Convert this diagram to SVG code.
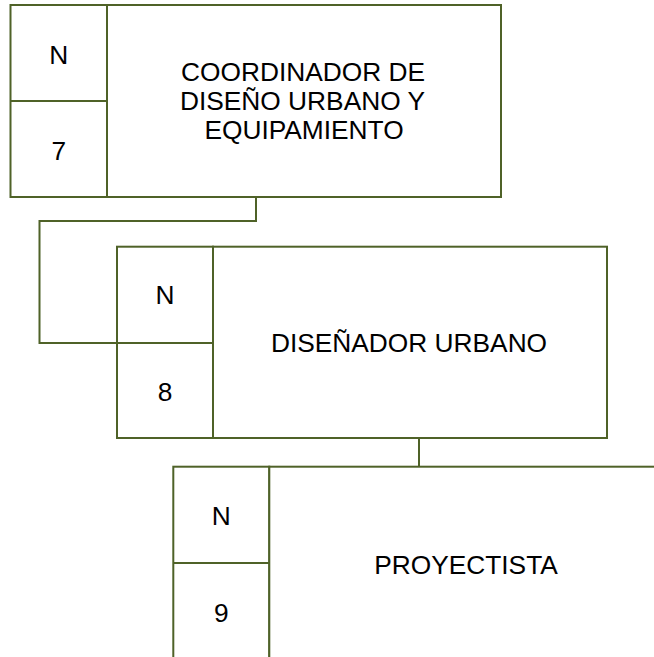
<svg xmlns="http://www.w3.org/2000/svg" width="654" height="657" viewBox="0 0 654 657">
<style>
.b{fill:#fff;stroke:#4F6228;stroke-width:2}
.l{fill:none;stroke:#4F6228;stroke-width:2}
.t{font-family:"Liberation Sans",Arial,sans-serif;font-size:26.3px;fill:#000;text-anchor:middle}
</style>
<rect width="654" height="657" fill="#fff"/>
<g id="connectors">
<polyline class="l" points="256,197 256,221 39.5,221 39.5,343 117,343"/>
<line class="l" x1="419" y1="438" x2="419" y2="466.7"/>
</g>
<g id="node7">
<rect class="b" x="10.5" y="5" width="96.5" height="192"/>
<rect class="b" x="107" y="5" width="394" height="192"/>
<line class="l" x1="10.5" y1="101" x2="107" y2="101"/>
<text class="t" x="58.7" y="64">N</text>
<text class="t" x="58.7" y="160">7</text>
<text class="t" x="303" y="81">COORDINADOR DE</text>
<text class="t" x="302.5" y="110">DISEÑO URBANO Y</text>
<text class="t" x="304" y="139">EQUIPAMIENTO</text>
</g>
<g id="node8">
<rect class="b" x="117" y="246.7" width="96" height="191.3"/>
<rect class="b" x="213" y="246.7" width="394" height="191.3"/>
<line class="l" x1="117" y1="343" x2="213" y2="343"/>
<text class="t" x="165" y="304">N</text>
<text class="t" x="165" y="401">8</text>
<text class="t" x="409" y="352">DISEÑADOR URBANO</text>
</g>
<g id="node9">
<rect class="b" x="173.3" y="466.7" width="96" height="200"/>
<rect class="b" x="269.3" y="466.7" width="394" height="200"/>
<line class="l" x1="173.3" y1="563" x2="269.3" y2="563"/>
<text class="t" x="221.3" y="525">N</text>
<text class="t" x="221.3" y="621.5">9</text>
<text class="t" x="466" y="574">PROYECTISTA</text>
</g>
</svg>
